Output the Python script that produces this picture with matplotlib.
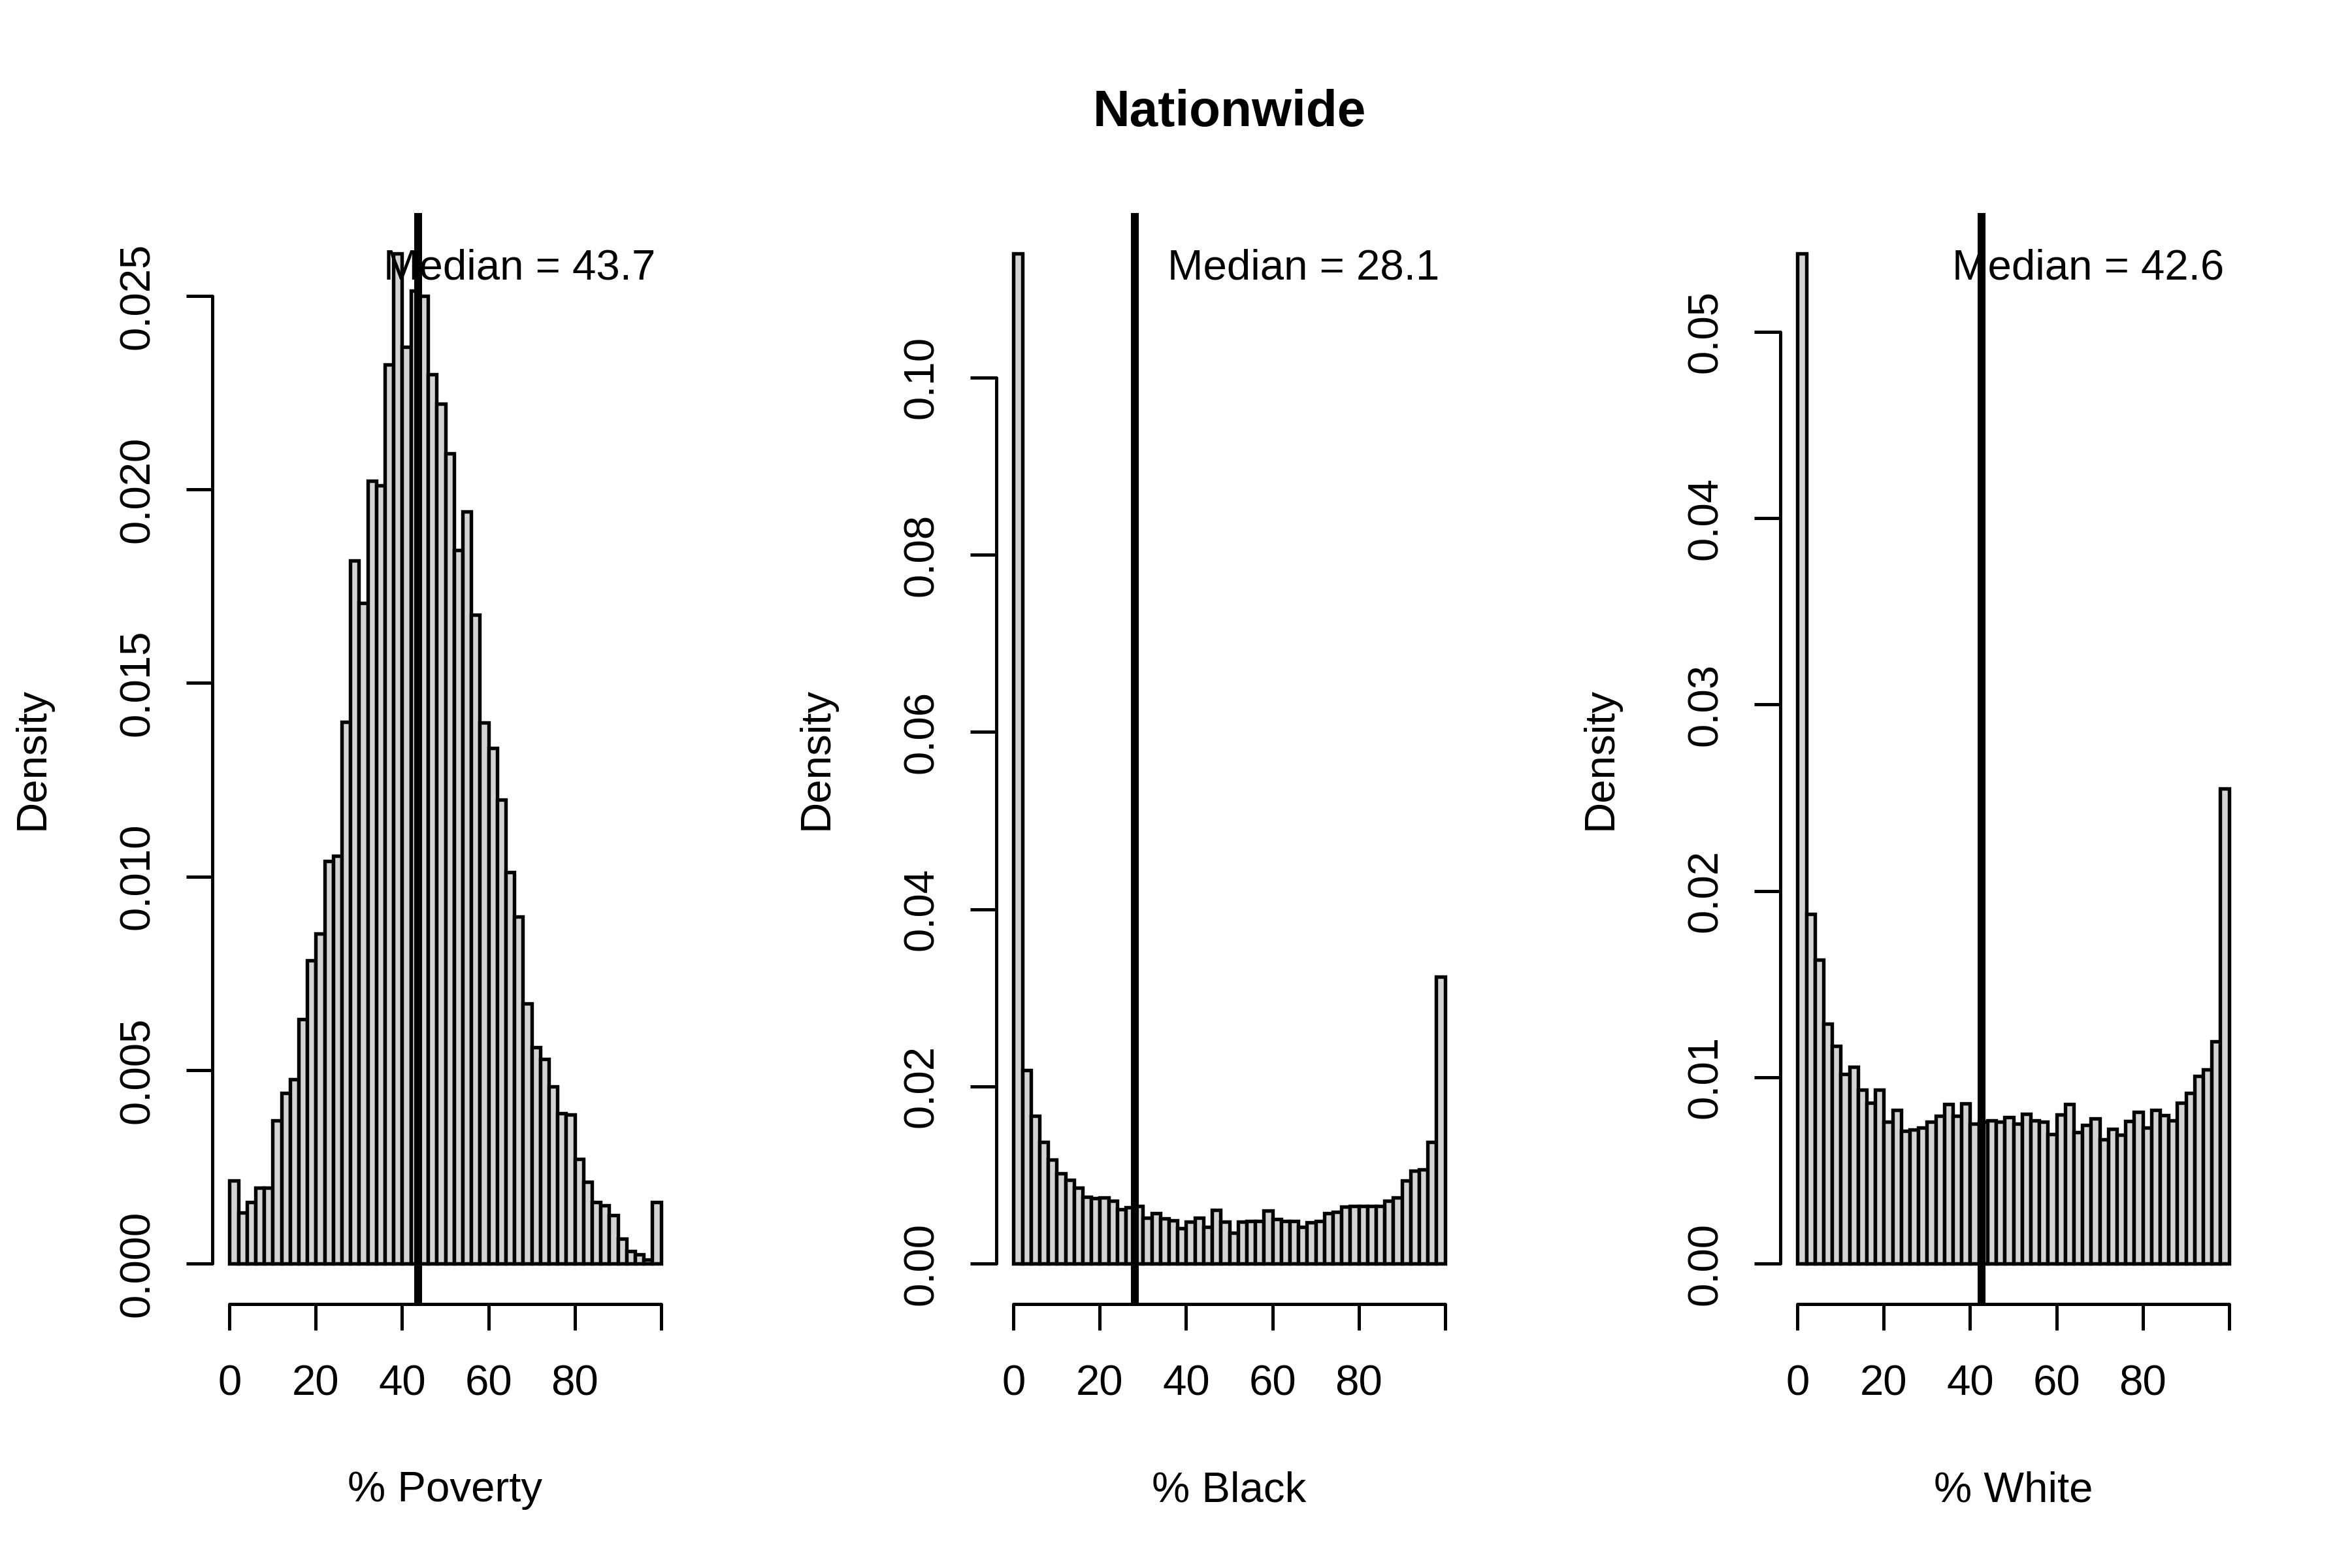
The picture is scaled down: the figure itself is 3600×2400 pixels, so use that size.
import numpy as np
import matplotlib
matplotlib.use("Agg")
import matplotlib.pyplot as plt

# ---- data (density per 2-point bin, 0..100) ----
breaks = np.arange(0, 101, 2)

poverty_density = [0.00214, 0.00132, 0.00159, 0.00196, 0.00196, 0.00370, 0.00440, 0.00476, 0.00632, 0.00784,
                   0.00852, 0.01040, 0.01053, 0.01400, 0.01817, 0.01707, 0.02022, 0.02010, 0.02322, 0.02610,
                   0.02368, 0.02513, 0.02500, 0.02297, 0.02222, 0.02093, 0.01844, 0.01943, 0.01676, 0.01397,
                   0.01332, 0.01198, 0.01011, 0.00897, 0.00672, 0.00559, 0.00529, 0.00458, 0.00388, 0.00385,
                   0.00271, 0.00211, 0.00159, 0.00150, 0.00125, 0.00064, 0.00033, 0.00024, 0.00010, 0.00159]

black_density = [0.11400, 0.02184, 0.01664, 0.01376, 0.01176, 0.01016, 0.00944, 0.00856, 0.00752, 0.00736,
                 0.00744, 0.00712, 0.00616, 0.00632, 0.00648, 0.00520, 0.00568, 0.00512, 0.00488, 0.00400,
                 0.00472, 0.00520, 0.00416, 0.00608, 0.00472, 0.00344, 0.00472, 0.00480, 0.00480, 0.00600,
                 0.00504, 0.00480, 0.00480, 0.00416, 0.00464, 0.00480, 0.00568, 0.00584, 0.00640, 0.00648,
                 0.00648, 0.00648, 0.00648, 0.00712, 0.00744, 0.00936, 0.01048, 0.01064, 0.01376, 0.03240]

white_density = [0.05420, 0.01875, 0.01632, 0.01286, 0.01168, 0.01016, 0.01054, 0.00932, 0.00864, 0.00932,
                 0.00761, 0.00825, 0.00711, 0.00719, 0.00730, 0.00761, 0.00791, 0.00856, 0.00791, 0.00860,
                 0.00749, 0.00760, 0.00768, 0.00761, 0.00784, 0.00749, 0.00803, 0.00768, 0.00761, 0.00696,
                 0.00799, 0.00856, 0.00704, 0.00742, 0.00780, 0.00666, 0.00723, 0.00692, 0.00765, 0.00814,
                 0.00730, 0.00825, 0.00795, 0.00768, 0.00864, 0.00917, 0.01008, 0.01042, 0.01194, 0.02549]

medians = [43.7, 28.1, 42.6]
xlabels = ["% Poverty", "% Black", "% White"]
yticks = [np.arange(0, 0.0251, 0.005), np.arange(0, 0.101, 0.02), np.arange(0, 0.051, 0.01)]
yfmt = ["%.3f", "%.2f", "%.2f"]
xticks = [0, 20, 40, 60, 80, 100]
xticklabels = ["0", "20", "40", "60", "80", ""]
title = "Nationwide"

plt.rcParams['font.family'] = ['Liberation Sans', 'DejaVu Sans']
FS = 15.7

fig = plt.figure(figsize=(12, 8), dpi=300)
densities = [poverty_density, black_density, white_density]

for i in range(3):
    ax = fig.add_axes([(325 + 1200 * i) / 3600, 404 / 2400, 713 / 3600, 1670 / 2400])
    d = np.array(densities[i])
    ax.bar(breaks[:-1], d, width=2, align='edge', color='#d3d3d3',
           edgecolor='black', linewidth=1.3)
    ax.axvline(medians[i], color='black', lw=2.9)
    top = d.max()
    ax.set_xlim(-4, 104)
    ax.set_ylim(-0.04 * top, 1.04 * top)

    ax.spines['top'].set_visible(False)
    ax.spines['right'].set_visible(False)
    ax.spines['left'].set_bounds(0, yticks[i][-1])
    ax.spines['bottom'].set_bounds(0, 100)
    for s in ['left', 'bottom']:
        ax.spines[s].set_linewidth(1.2)
        ax.spines[s].set_capstyle('round')

    ax.set_xticks(xticks)
    ax.set_xticklabels(xticklabels)
    ax.set_yticks(yticks[i])
    ax.set_yticklabels([yfmt[i] % v for v in yticks[i]], rotation=90, va='center')
    ax.tick_params(axis='both', direction='out', length=9.6, width=1.2, labelsize=FS)
    ax.tick_params(axis='x', pad=12.5)
    ax.tick_params(axis='y', pad=10.5)

    ax.set_xlabel(xlabels[i], fontsize=FS)
    ax.xaxis.set_label_coords(0.5, -0.1707)
    ax.xaxis.label.set_va('center')
    ax.set_ylabel("Density", fontsize=FS)
    ax.yaxis.set_label_coords(-0.386, 0.5)
    ax.yaxis.label.set_va('center')

    ax.text(0.952, 0.939, "Median = %.1f" % medians[i], transform=ax.transAxes,
            ha='right', va='baseline', fontsize=FS)

    if i == 1:
        ax.set_title(title, fontsize=18.8, fontweight='bold', pad=31.9)

fig.savefig("out.png", dpi=300)
